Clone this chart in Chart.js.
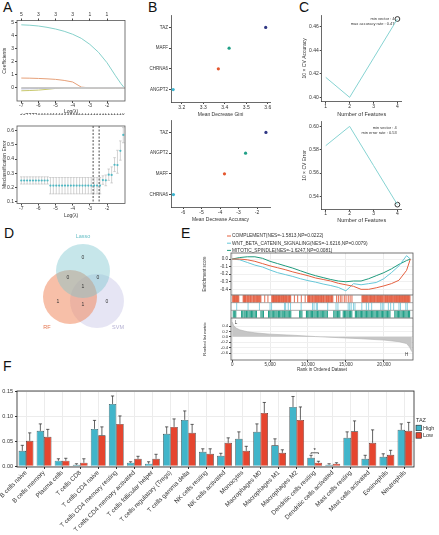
<!DOCTYPE html>
<html>
<head>
<meta charset="utf-8">
<script src="https://cdn.jsdelivr.net/npm/chart.js@4.4.1/dist/chart.umd.min.js"></script>
<style>
html, body { margin: 0; padding: 0; background: #fff; }
#fig { position: relative; width: 439px; height: 535px; overflow: hidden; background: #fff; font-family: "Liberation Sans", Arial, sans-serif; }
#fig canvas { position: absolute; }
.tag { position: absolute; font-size: 14px; line-height: 14px; color: #111; }
</style>
</head>
<body>
<div id="fig">
  <div class="tag" style="left:3px;top:0px">A</div>
  <div class="tag" style="left:148px;top:0px">B</div>
  <div class="tag" style="left:299px;top:0px">C</div>
  <div class="tag" style="left:4px;top:226px">D</div>
  <div class="tag" style="left:181px;top:226px">E</div>
  <div class="tag" style="left:3px;top:359px">F</div>
</div>
<script>
// ---- A: lasso coefficient paths
const coefLambda = [-7, -6.5, -6, -5.5, -5, -4.5, -4, -3.5, -3, -2.5, -2, -1.5, -1.2, -1.0, -0.95];
const coefA = [4.81, 4.78, 4.72, 4.62, 4.49, 4.32, 4.09, 3.78, 3.32, 2.72, 1.92, 0.92, 0.35, 0.02, 0];
const coefB = [0.75, 0.74, 0.72, 0.69, 0.65, 0.57, 0.45, 0.06, 0, 0, 0, 0, 0, 0, 0];
const coefC = [-0.22, -0.20, -0.17, -0.11, -0.04, 0, 0, 0, 0, 0, 0, 0, 0, 0, 0];
const coefD = [-0.07, -0.06, -0.05, -0.03, -0.01, 0, 0, 0, 0, 0, 0, 0, 0, 0, 0];
const coefE = [0, 0, 0, 0, 0, 0, 0, 0, 0, 0, 0, 0, 0, 0, 0];
const coefTicks = [-7, -6, -5, -4, -3, -2];
const coefDfTop = ['5', '3', '3', '3', '1', '1'];

// ---- A: cross-validation
const cvLambda = [-7.00, -6.83, -6.66, -6.49, -6.32, -6.15, -5.98, -5.81, -5.64, -5.47,
  -5.30, -5.13, -4.96, -4.79, -4.62, -4.45, -4.28, -4.11, -3.94, -3.77, -3.60, -3.43, -3.26, -3.09,
  -2.92, -2.75, -2.58, -2.41, -2.24, -2.07, -1.90, -1.73, -1.56, -1.39, -1.22, -1.05];
const cvMean = [0.249, 0.249, 0.249, 0.249, 0.249, 0.249, 0.249, 0.249, 0.249, 0.249,
  0.213, 0.213, 0.213, 0.213, 0.213, 0.213, 0.213, 0.213, 0.213, 0.213, 0.213, 0.213, 0.213, 0.213,
  0.213, 0.213, 0.213, 0.213, 0.252, 0.250, 0.290, 0.288, 0.360, 0.358, 0.458, 0.570];
const cvLow = [0.224, 0.224, 0.224, 0.224, 0.224, 0.224, 0.224, 0.224, 0.224, 0.224,
  0.155, 0.155, 0.155, 0.155, 0.155, 0.155, 0.155, 0.155, 0.155, 0.155, 0.155, 0.155, 0.155, 0.155,
  0.155, 0.155, 0.155, 0.155, 0.222, 0.212, 0.250, 0.232, 0.312, 0.300, 0.392, 0.515];
const cvHigh = [0.275, 0.275, 0.275, 0.275, 0.275, 0.275, 0.275, 0.275, 0.275, 0.275,
  0.270, 0.270, 0.270, 0.270, 0.270, 0.270, 0.270, 0.270, 0.270, 0.270, 0.270, 0.270, 0.270, 0.270,
  0.270, 0.270, 0.270, 0.270, 0.282, 0.288, 0.330, 0.345, 0.410, 0.462, 0.528, 0.622];
const cvDf = ['5','5','4','4','4','4','3','3','3','3','3','3','3','3','3','3','3','3','3',
  '2','2','2','1','1','1','1','1','1','1','1','1','1','1','1','1','0'];
const cvCutoffs = [-2.81, -2.46];

// ---- B: random forest importance
const giniGenes = ['TAZ', 'MAFF', 'CHRNA6', 'ANGPT2'];
const giniValues = [3.59, 3.42, 3.37, 3.16];
const accGenes = ['TAZ', 'ANGPT2', 'MAFF', 'CHRNA6'];
const accValues = [-1.52, -2.62, -3.76, -6.52];
const rankColors = ['#2f3784', '#21a087', '#e4572e', '#3bb4cf'];

// ---- C: SVM-RFE
const featureCount = [1, 2, 3, 4];
const cvAccuracy = [0.417, 0.400, 0.4333, 0.4666];
const cvError = [0.5835, 0.600, 0.5665, 0.533];

// ---- D: venn
const vennSets = ['Lasso', 'RF', 'SVM'];
const vennCounts = ['0', '0', '0', '1', '1', '1', '0'];

// ---- E: GSEA
const gseaNames = ['COMPLEMENT(NES=-1.5813,NP=0.0222)', 'WNT_BETA_CATENIN_SIGNALING(NES=-1.6216,NP=0.0079)', 'MITOTIC_SPINDLE(NES=-1.6247,NP=0.0081)'];
const gseaColors = ['#e5603f', '#66c7d8', '#1f9a7c'];
const esRanks = [0, 1000, 2000, 3000, 4000, 5000, 6000, 7000, 8000, 9000, 10000, 11000, 12000,
  13000, 14000, 15000, 16000, 17000, 18000, 19000, 20000, 21000, 22000, 23000, 23500];
const esComplement = [0, 0, -0.01, -0.03, -0.06, -0.09, -0.115, -0.14, -0.17, -0.195, -0.22, -0.25, -0.27,
  -0.29, -0.32, -0.34, -0.36, -0.40, -0.40, -0.38, -0.355, -0.325, -0.28, -0.15, 0];
const esWnt = [0, -0.01, -0.045, -0.08, -0.105, -0.145, -0.18, -0.205, -0.23, -0.26, -0.285, -0.305, -0.33,
  -0.35, -0.375, -0.42, -0.325, -0.34, -0.325, -0.31, -0.26, -0.18, -0.09, 0.045, 0];
const esMitotic = [0, 0.02, 0.03, 0.03, 0.01, -0.03, -0.06, -0.09, -0.12, -0.155, -0.19, -0.22, -0.245,
  -0.27, -0.29, -0.30, -0.29, -0.29, -0.26, -0.22, -0.18, -0.13, -0.07, -0.02, 0];
const hitsComplement = [80, 150, 220, 310, 390, 470, 560, 630, 700, 800, 880,
  1450, 1530, 1620, 1690, 1760, 1860, 1990, 2070, 2140, 2260, 2380, 2450, 2520, 2650, 2790, 2860, 2930, 3060,
  3180, 3260, 3350, 3480, 3620, 3700, 3790, 4300, 4720,
  5230, 5300, 5390, 5460, 5520, 5600, 5710, 5790, 5860, 5950, 6040, 6100, 6170, 6250, 6330, 6420, 6520, 6600,
  6690, 6750, 6810, 6920, 7020, 7090, 7160, 7270, 7390, 7470, 7560, 7640, 7720,
  8210, 8640, 9120, 9630,
  9960, 10060, 10140, 10210, 10290, 10400, 10510, 10580, 10660, 10770, 10890, 10950, 11020, 11130, 11240,
  11320, 11400, 11510, 11630, 11710, 11790, 11880, 11980, 12060, 12130, 12250, 12360, 12450, 12540, 12620,
  12710, 12820, 12930, 13020, 13110, 13190, 13280,
  13780, 14010, 14260, 14480, 14790, 15020, 15310, 15560, 15800,
  17120, 17210, 17310, 17390, 17470, 17580, 17690, 17760, 17830, 17950, 18060, 18150, 18240, 18310, 18390,
  18500, 18620, 18700, 18770, 18880, 18990, 19080, 19180, 19260, 19330, 19440, 19560, 19640, 19720, 19810,
  19910, 20020, 20140, 20210, 20290, 20380, 20480, 20560, 20650, 20760, 20870, 20950, 21030, 21110, 21190,
  21300, 21420, 21500, 21580, 21670, 21760, 21840, 21910, 22000, 22080, 22150, 22230, 22320, 22410, 22480,
  22560, 22640, 22720, 22800, 22880, 22950, 23030, 23110, 23190, 23270, 23350, 23450];
const hitsWnt = [600, 2100, 3600, 5000, 5200, 6900, 7050, 7400, 7700, 9100, 10600, 10800, 11100, 11250, 12600,
  13700, 13950, 15300, 15500, 15700, 16000, 16200, 17100, 17700, 18000, 18400, 19600, 19800, 20000, 20600,
  20900, 21300, 22000, 22200, 22900, 23100];
const hitsMitotic = [150, 330, 480, 1250, 1400, 1580, 1720, 1900, 2060, 2230, 2390, 2560, 2710, 2880, 3050, 3210,
  3800, 3960, 4130, 4800, 4960, 5120, 5290, 5440, 5620, 5780, 5930, 6110, 6260, 6430, 6600, 6740, 6920, 7080,
  7240, 7400, 7580, 7730, 8900, 9050, 9200, 9800, 9960, 10120, 10290, 10450, 10600, 10780, 10930, 11090,
  11260, 11420, 11590, 11740, 11900, 12070, 12230, 12390, 12560, 13400, 13560, 13720, 13890, 14050, 14200,
  14650, 14810, 14970, 15140, 15290, 15460, 15620, 15780, 16250, 16410, 16580, 16730, 16900, 17060, 17220,
  17390, 17550, 17710, 17880, 18040, 18200, 18370, 18530, 18690, 18850, 19020, 19180, 19340, 19500, 19670,
  19830, 19990, 20160, 20320, 20480, 20650, 20810, 21450, 21610, 21780, 21940, 22100, 22270, 22430, 22590,
  22760, 22920, 23080, 23250, 23400];
const metricRanks = [0, 200, 500, 1000, 2000, 3000, 5000, 8000, 11000, 14000, 17000, 20000, 22000, 23000, 23400, 23700];
const metricValues = [0.55, 0.42, 0.33, 0.26, 0.19, 0.15, 0.10, 0.06, 0.01, -0.03, -0.07, -0.12, -0.18, -0.25, -0.38, -0.55];
const rankTicks = [0, 5000, 10000, 15000, 20000];

// ---- F: immune infiltration
const cellTypes = ['B cells naive', 'B cells memory', 'Plasma cells', 'T cells CD8', 'T cells CD4 naive',
  'T cells CD4 memory resting', 'T cells CD4 memory activated', 'T cells follicular helper',
  'T cells regulatory (Tregs)', 'T cells gamma delta', 'NK cells resting', 'NK cells activated', 'Monocytes',
  'Macrophages M0', 'Macrophages M1', 'Macrophages M2', 'Dendritic cells resting', 'Dendritic cells activated',
  'Mast cells resting', 'Mast cells activated', 'Eosinophils', 'Neutrophils'];
const highMean = [0.031, 0.071, 0.011, 0.003, 0.075, 0.125, 0.007, 0.005, 0.065, 0.093, 0.029, 0.021, 0.055,
  0.069, 0.042, 0.119, 0.017, 0.003, 0.057, 0.015, 0.019, 0.073];
const highSE = [0.011, 0.014, 0.004, 0.002, 0.017, 0.016, 0.002, 0.004, 0.014, 0.018, 0.006, 0.005, 0.014,
  0.016, 0.013, 0.021, 0.005, 0.002, 0.012, 0.007, 0.006, 0.012];
const lowMean = [0.051, 0.059, 0.011, 0.007, 0.062, 0.085, 0.015, 0.015, 0.079, 0.067, 0.025, 0.047, 0.031,
  0.107, 0.027, 0.093, 0.007, 0.005, 0.070, 0.047, 0.023, 0.071];
const lowSE = [0.016, 0.015, 0.005, 0.008, 0.017, 0.016, 0.005, 0.009, 0.016, 0.017, 0.010, 0.010, 0.009,
  0.021, 0.006, 0.026, 0.003, 0.002, 0.021, 0.026, 0.009, 0.017];
const sigCells = [16];
const sigLevel = [0.027];

const FONT = '"Liberation Sans", Arial, sans-serif';
Chart.defaults.font.family = FONT;
Chart.defaults.font.size = 5;
Chart.defaults.color = '#333';
Chart.defaults.animation = false;
Chart.defaults.responsive = false;
Chart.defaults.events = [];
Chart.defaults.layout.autoPadding = false;
Chart.defaults.plugins.legend.display = false;
Chart.defaults.plugins.tooltip.enabled = false;

const place = (id, left, top, w, h) => {
  const c = document.createElement('canvas');
  c.id = id; c.width = w; c.height = h;
  c.style.left = left + 'px'; c.style.top = top + 'px';
  c.style.width = w + 'px'; c.style.height = h + 'px';
  document.getElementById('fig').appendChild(c);
  return c.getContext('2d');
};
const zeroPad = s => { s.paddingLeft = 0; s.paddingRight = 0; s.paddingTop = 0; s.paddingBottom = 0; };
const fitH = h => s => { s.height = h; zeroPad(s); };
const fitW = w => s => { s.width = w; zeroPad(s); };
const setTicks = vals => s => { s.ticks = vals.map(v => ({value: v})); };
const pts = (xs, ys) => xs.map((x, i) => ({x: x, y: ys[i]}));

const framePlugin = {
  id: 'frame',
  afterDatasetsDraw(chart, args, opts) {
    if (!opts.color) return;
    const a = chart.chartArea, ctx = chart.ctx;
    ctx.save();
    ctx.strokeStyle = opts.color;
    ctx.lineWidth = opts.width || 0.8;
    ctx.strokeRect(a.left, a.top, a.right - a.left, a.bottom - a.top);
    ctx.restore();
  }
};
Chart.register(framePlugin);

const drawNotes = (chart, notes) => {
  const ctx = chart.ctx, xs = chart.scales.x, ys = chart.scales.y;
  ctx.save();
  notes.forEach(n => {
    ctx.font = (n.size || 5) + 'px ' + FONT;
    ctx.fillStyle = n.color || '#333';
    ctx.textAlign = n.align || 'center';
    ctx.textBaseline = 'middle';
    ctx.fillText(n.text, xs.getPixelForValue(n.x), ys.getPixelForValue(n.y));
  });
  ctx.restore();
};

const tickGrid = {drawOnChartArea: false, tickLength: 2, tickColor: '#444'};
const axisLine = {display: true, color: '#444', width: 0.8};

// ---------- A: coefficient paths
new Chart(place('coefChart', 0, 8, 130, 110), {
  type: 'scatter',
  data: {
    datasets: [coefE, coefD, coefC, coefB, coefA].map((s, i) => ({
      data: pts(coefLambda, s), showLine: true, pointRadius: 0,
      borderWidth: i === 0 ? 1.6 : 1,
      borderColor: ['#c9c9c9', '#a3a8d4', '#c8c86e', '#e6a079', '#86d1cb'][i]
    }))
  },
  options: {
    layout: {padding: {right: 5}},
    plugins: {frame: {color: '#555'}},
    scales: {
      x: {type: 'linear', min: -7.25, max: -0.95, afterBuildTicks: setTicks(coefTicks), afterFit: fitH(17),
        grid: tickGrid, border: {display: false}, ticks: {padding: 0},
        title: {display: true, text: 'Log(λ)', padding: {top: 0, bottom: 3}}},
      xTop: {type: 'linear', position: 'top', min: -7.25, max: -0.95, afterBuildTicks: setTicks(coefTicks),
        afterFit: fitH(12.5), grid: tickGrid, border: {display: false},
        ticks: {padding: 1, callback: (v, i) => coefDfTop[i]}},
      y: {type: 'linear', min: -1, max: 5.14, afterBuildTicks: setTicks([0, 1, 2, 3, 4, 5]), afterFit: fitW(17),
        grid: tickGrid, border: {display: false}, ticks: {padding: 1},
        title: {display: true, text: 'Coefficients', padding: {top: 2, bottom: 0}}}
    }
  }
});

// ---------- A: cross-validation curve
new Chart(place('cvChart', 0, 113, 130, 112), {
  type: 'scatter',
  data: {datasets: [{data: pts(cvLambda, cvMean), pointRadius: 1.1, pointBackgroundColor: '#4fb9c4', pointBorderWidth: 0}]},
  options: {
    layout: {padding: {right: 5}},
    plugins: {frame: {color: '#555'}},
    scales: {
      x: {type: 'linear', min: -7.25, max: -0.95, afterBuildTicks: setTicks(coefTicks), afterFit: fitH(21.5),
        grid: tickGrid, border: {display: false}, ticks: {padding: 0},
        title: {display: true, text: 'Log(λ)', padding: {top: 0, bottom: 6.5}}},
      xTop: {type: 'linear', position: 'top', min: -7.25, max: -0.95, afterBuildTicks: setTicks(cvLambda),
        afterFit: fitH(13), grid: {display: false}, border: {display: false},
        ticks: {padding: 2, autoSkip: false, maxRotation: 0, font: {size: 4.5}, callback: (v, i) => cvDf[i]}},
      y: {type: 'linear', min: 0.087, max: 0.633, afterBuildTicks: setTicks([0.1, 0.2, 0.3, 0.4, 0.5, 0.6]),
        afterFit: fitW(17), grid: tickGrid, border: {display: false},
        ticks: {padding: 1, callback: v => v.toFixed(1)},
        title: {display: true, text: 'Misclassification Error', padding: {top: 2, bottom: 0}}}
    }
  },
  plugins: [{
    id: 'cvBars',
    beforeDatasetsDraw(chart) {
      const ctx = chart.ctx, xs = chart.scales.x, ys = chart.scales.y;
      ctx.save();
      ctx.strokeStyle = '#b5b5b5';
      ctx.lineWidth = 0.6;
      cvLambda.forEach((l, i) => {
        const x = xs.getPixelForValue(l), y1 = ys.getPixelForValue(cvLow[i]), y2 = ys.getPixelForValue(cvHigh[i]);
        ctx.beginPath();
        ctx.moveTo(x, y1); ctx.lineTo(x, y2);
        ctx.moveTo(x - 1.3, y1); ctx.lineTo(x + 1.3, y1);
        ctx.moveTo(x - 1.3, y2); ctx.lineTo(x + 1.3, y2);
        ctx.stroke();
      });
      ctx.strokeStyle = '#222';
      ctx.lineWidth = 0.8;
      ctx.setLineDash([2, 1.5]);
      cvCutoffs.forEach(l => {
        const x = xs.getPixelForValue(l);
        ctx.beginPath();
        ctx.moveTo(x, chart.chartArea.top); ctx.lineTo(x, chart.chartArea.bottom);
        ctx.stroke();
      });
      ctx.restore();
    }
  }]
});

// ---------- B: random forest importance
const importanceChart = (id, top, genes, values, xmin, xmax, xticks, title, digits) => new Chart(place(id, 140, top, 140, 112), {
  type: 'scatter',
  data: {datasets: [{
    data: genes.map((g, i) => ({x: values[i], y: genes.length - i})),
    pointRadius: 1.6, pointBorderWidth: 0, pointBackgroundColor: rankColors
  }]},
  options: {
    layout: {padding: {top: 7, right: 10}},
    scales: {
      x: {type: 'linear', min: xmin, max: xmax, afterBuildTicks: setTicks(xticks), afterFit: fitH(18),
        grid: tickGrid, border: axisLine, ticks: {padding: 1, callback: v => v.toFixed(digits)},
        title: {display: true, text: title, padding: {top: 0, bottom: 2.5}}},
      y: {type: 'linear', min: 0.4, max: 4.6, afterBuildTicks: setTicks([4, 3, 2, 1]), afterFit: fitW(31),
        grid: tickGrid, border: axisLine,
        ticks: {padding: 1, font: {size: 4.5}, callback: v => genes[genes.length - v]}}
    }
  }
});
importanceChart('giniChart', 8, giniGenes, giniValues, 3.15, 3.61, [3.2, 3.3, 3.4, 3.5, 3.6], 'Mean Decrease Gini', 1);
importanceChart('accChart', 113, accGenes, accValues, -6.65, -1.3, [-6, -5, -4, -3, -2], 'Mean Decrease Accuracy', 0);

// ---------- C: SVM-RFE
const svmChart = (id, top, values, ymin, ymax, yticks, ytitle, padTop, xh, tickPad, titlePad, notes) => new Chart(place(id, 298, top, 112, 112), {
  type: 'scatter',
  data: {datasets: [
    {data: pts(featureCount, values), showLine: true, borderColor: '#86d3d2', borderWidth: 1, pointRadius: 0},
    {data: [{x: featureCount[3], y: values[3]}], pointRadius: 2.4, pointBackgroundColor: '#fff', pointBorderColor: '#222', pointBorderWidth: 0.9}
  ]},
  options: {
    layout: {padding: {top: padTop, right: 8.3}},
    scales: {
      x: {type: 'linear', min: 0.83, max: 4.18, afterBuildTicks: setTicks(featureCount), afterFit: fitH(xh),
        grid: tickGrid, border: axisLine, ticks: {padding: tickPad},
        title: {display: true, text: 'Number of Features', padding: {top: 0, bottom: titlePad}, font: {size: 5.5}}},
      y: {type: 'linear', min: ymin, max: ymax, afterBuildTicks: setTicks(yticks), afterFit: fitW(23.7),
        grid: tickGrid, border: axisLine, ticks: {padding: 1, callback: v => v.toFixed(2)},
        title: {display: true, text: ytitle, padding: {top: 4, bottom: 0}}}
    }
  },
  plugins: [{id: 'svmNotes', afterDraw: chart => drawNotes(chart, notes)}]
});
svmChart('accCurve', 8, cvAccuracy, 0.3963, 0.470, [0.40, 0.42, 0.44, 0.46], '10 × CV Accuracy', 7, 18.3, 0, 2.7, [
  {x: 3.88, y: 0.4668, text: 'min vector : 4', align: 'right', size: 4},
  {x: 3.88, y: 0.4622, text: 'max accuracy rate : 0.47', align: 'right', size: 4}
]);
svmChart('errCurve', 113, cvError, 0.529, 0.604, [0.54, 0.56, 0.58, 0.60], '10 × CV Error', 8.7, 15.7, -1, 1.3, [
  {x: 3.97, y: 0.599, text: 'min vector : 4', align: 'right', size: 4},
  {x: 3.97, y: 0.5943, text: 'min error rate : 0.53', align: 'right', size: 4}
]);

// ---------- D: venn diagram
new Chart(place('vennChart', 30, 228, 120, 112), {
  type: 'bubble',
  data: {datasets: [
    {label: vennSets[0], data: [{x: 53, y: 69, r: 27}], backgroundColor: 'rgba(120,196,206,0.42)', borderWidth: 0},
    {label: vennSets[1], data: [{x: 40, y: 43, r: 27}], backgroundColor: 'rgba(240,138,96,0.55)', borderWidth: 0},
    {label: vennSets[2], data: [{x: 67, y: 39, r: 27}], backgroundColor: 'rgba(196,192,228,0.42)', borderWidth: 0}
  ]},
  options: {
    scales: {x: {display: false, min: 0, max: 120}, y: {display: false, min: 0, max: 112}}
  },
  plugins: [{id: 'vennText', afterDraw: chart => drawNotes(chart, [
    {x: 53, y: 104, text: vennSets[0], color: '#6cc0c7', size: 5.5},
    {x: 17, y: 13, text: vennSets[1], color: '#e4744c', size: 5.5},
    {x: 88, y: 13, text: vennSets[2], color: '#b3afd2', size: 5.5},
    {x: 53, y: 82, text: vennCounts[0]},
    {x: 38, y: 62, text: vennCounts[1]},
    {x: 68, y: 62, text: vennCounts[2]},
    {x: 53, y: 53, text: vennCounts[3]},
    {x: 28, y: 38, text: vennCounts[4]},
    {x: 53, y: 35, text: vennCounts[5]},
    {x: 77, y: 38, text: vennCounts[6]}
  ])}]
});

// ---------- E: GSEA running score
const rankAxis = {type: 'linear', min: -150, max: 23850, afterBuildTicks: setTicks(rankTicks)};
new Chart(place('esChart', 200, 228, 215, 67), {
  type: 'scatter',
  data: {datasets: [esComplement, esWnt, esMitotic].map((s, i) => ({
    label: gseaNames[i], data: pts(esRanks, s), showLine: true, pointRadius: 0, borderWidth: 1, borderColor: gseaColors[i]
  }))},
  options: {
    layout: {padding: {top: 25, right: 2}},
    plugins: {frame: {color: '#555'}},
    scales: {
      x: Object.assign({}, rankAxis, {afterFit: fitH(0), ticks: {display: false},
        grid: {color: '#ececec', drawTicks: false}, border: {display: false}}),
      y: {type: 'linear', min: -0.475, max: 0.08, afterBuildTicks: setTicks([-0.4, -0.3, -0.2, -0.1, 0]),
        afterFit: fitW(31), grid: {color: '#f0f0f0', tickLength: 2, tickColor: '#444'}, border: {display: false},
        ticks: {padding: 1, font: {size: 4.5}, callback: v => v.toFixed(1)},
        title: {display: true, text: 'Enrichment score', font: {size: 4.5}, padding: {top: 2, bottom: 0}}}
    }
  },
  plugins: [{
    id: 'gseaLegend',
    afterDraw(chart) {
      const ctx = chart.ctx, top = chart.chartArea.top;
      ctx.save();
      ctx.font = '4.8px ' + FONT;
      ctx.textBaseline = 'middle';
      chart.data.datasets.forEach((d, i) => {
        const y = top - 17 + i * 7.2;
        ctx.strokeStyle = d.borderColor;
        ctx.lineWidth = 1;
        ctx.beginPath(); ctx.moveTo(27, y); ctx.lineTo(31, y); ctx.stroke();
        ctx.fillStyle = '#333';
        ctx.fillText(d.label, 32, y);
      });
      ctx.restore();
    }
  }]
});

// ---------- E: hit positions
new Chart(place('hitChart', 200, 295, 215, 23), {
  type: 'scatter',
  data: {datasets: [hitsComplement, hitsWnt, hitsMitotic].map((h, i) => ({
    data: h.map(r => ({x: r, y: 2.5 - i})), pointStyle: 'line', rotation: 90, pointRadius: 3.6,
    pointBorderWidth: [0.9, 0.9, 1.1][i], pointBorderColor: ['#e3593b', '#7ccbdb', '#23a088'][i]
  }))},
  options: {
    layout: {padding: {left: 31, right: 2}},
    plugins: {frame: {color: '#666'}},
    scales: {x: Object.assign({}, rankAxis, {display: false}), y: {type: 'linear', min: 0, max: 3, display: false}}
  },
  plugins: [{
    id: 'rowLines',
    afterDatasetsDraw(chart) {
      const ctx = chart.ctx, a = chart.chartArea, ys = chart.scales.y;
      ctx.save();
      ctx.strokeStyle = '#777';
      ctx.lineWidth = 0.6;
      [1, 2].forEach(v => {
        const y = ys.getPixelForValue(v);
        ctx.beginPath(); ctx.moveTo(a.left, y); ctx.lineTo(a.right, y); ctx.stroke();
      });
      ctx.restore();
    }
  }]
});

// ---------- E: ranked list metric
new Chart(place('metricChart', 200, 318, 215, 56), {
  type: 'scatter',
  data: {datasets: [{data: pts(metricRanks, metricValues), showLine: true, pointRadius: 0,
    borderColor: '#b0b0b0', borderWidth: 0.6, backgroundColor: '#c6c6c6', fill: 'origin'}]},
  options: {
    layout: {padding: {right: 2}},
    plugins: {frame: {color: '#555'}},
    scales: {
      x: Object.assign({}, rankAxis, {afterFit: fitH(14), grid: {color: '#ececec', tickLength: 2, tickColor: '#444'},
        border: {display: false}, ticks: {padding: 0, font: {size: 4.5}, callback: v => v.toLocaleString('en-US')},
        title: {display: true, text: 'Rank in Ordered Dataset', font: {size: 4.5}, padding: {top: 0, bottom: 1.5}}}),
      y: {type: 'linear', min: -0.86, max: 0.70, afterBuildTicks: setTicks([-0.6, -0.4, -0.2, 0, 0.2, 0.4]),
        afterFit: fitW(31), grid: {color: '#f0f0f0', tickLength: 2, tickColor: '#444'}, border: {display: false},
        ticks: {padding: 1, font: {size: 4.2}, callback: v => v.toFixed(1)},
        title: {display: true, text: 'Ranked list metric', font: {size: 4.2}, padding: {top: 2, bottom: 0}}}
    }
  },
  plugins: [{id: 'metricNotes', afterDraw: chart => drawNotes(chart, [
    {x: 500, y: 0.53, text: 'L', size: 4.5},
    {x: 23000, y: -0.68, text: 'H', size: 4.5}
  ])}]
});

// ---------- F: immune cell fractions
new Chart(place('immuneChart', 0, 385, 439, 150), {
  type: 'bar',
  data: {
    labels: cellTypes,
    datasets: [
      {label: 'High', data: highMean, errors: highSE, backgroundColor: '#41b5ca'},
      {label: 'Low', data: lowMean, errors: lowSE, backgroundColor: '#e5452f'}
    ].map(d => Object.assign(d, {borderColor: '#222', borderWidth: 0.6, categoryPercentage: 0.82, barPercentage: 1}))
  },
  options: {
    layout: {padding: {top: 6, right: 25}},
    plugins: {frame: {color: '#222', width: 0.8}},
    scales: {
      x: {afterFit: fitH(68), grid: {offset: false, color: '#ececec', tickLength: 2, tickColor: '#333'},
        border: {display: false},
        ticks: {autoSkip: false, maxRotation: 45, minRotation: 45, padding: 0, font: {size: 6.3}}},
      y: {min: -0.0015, max: 0.151, afterBuildTicks: setTicks([0, 0.05, 0.10, 0.15]), afterFit: fitW(17),
        grid: {color: '#ececec', tickLength: 2, tickColor: '#333'}, border: {display: false},
        ticks: {padding: 2, font: {size: 5.5}, callback: v => v.toFixed(2)}}
    }
  },
  plugins: [{
    id: 'errorBars',
    afterDatasetsDraw(chart) {
      const ctx = chart.ctx, ys = chart.scales.y;
      ctx.save();
      ctx.strokeStyle = '#222';
      ctx.lineWidth = 0.7;
      chart.data.datasets.forEach((d, di) => {
        chart.getDatasetMeta(di).data.forEach((bar, i) => {
          const yTop = ys.getPixelForValue(d.data[i] + d.errors[i]);
          ctx.beginPath();
          ctx.moveTo(bar.x, bar.y); ctx.lineTo(bar.x, yTop);
          ctx.moveTo(bar.x - 1.6, yTop); ctx.lineTo(bar.x + 1.6, yTop);
          ctx.stroke();
        });
      });
      sigCells.forEach((ci, k) => {
        const x1 = chart.getDatasetMeta(0).data[ci].x, x2 = chart.getDatasetMeta(1).data[ci].x;
        const y = ys.getPixelForValue(sigLevel[k]);
        ctx.beginPath();
        ctx.moveTo(x1, y + 1.2); ctx.lineTo(x1, y); ctx.lineTo(x2, y); ctx.lineTo(x2, y + 1.2);
        ctx.stroke();
        ctx.fillStyle = '#222';
        ctx.font = '6px ' + FONT;
        ctx.textAlign = 'center';
        ctx.textBaseline = 'bottom';
        ctx.fillText('*', (x1 + x2) / 2, y + 1);
      });
      ctx.restore();
    }
  }, {
    id: 'tazLegend',
    afterDraw(chart) {
      const ctx = chart.ctx;
      ctx.save();
      ctx.font = '5.5px ' + FONT;
      ctx.textBaseline = 'middle';
      ctx.fillStyle = '#333';
      ctx.fillText('TAZ', 416, 35);
      chart.data.datasets.forEach((d, i) => {
        const y = 43 + i * 7.5;
        ctx.fillStyle = d.backgroundColor;
        ctx.fillRect(416, y - 2.8, 5.5, 5.5);
        ctx.strokeStyle = '#222';
        ctx.lineWidth = 0.6;
        ctx.strokeRect(416, y - 2.8, 5.5, 5.5);
        ctx.fillStyle = '#333';
        ctx.fillText(d.label, 423, y);
      });
      ctx.restore();
    }
  }]
});
</script>
</body>
</html>
